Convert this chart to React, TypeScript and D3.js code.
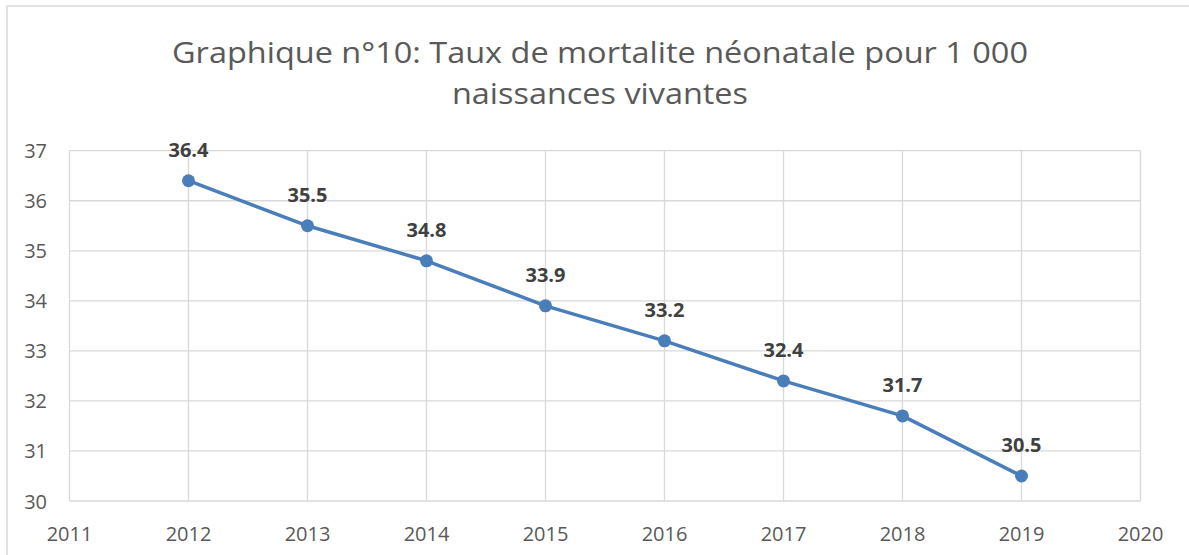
import React from "react";
import * as d3 from "d3";

const years = [2012, 2013, 2014, 2015, 2016, 2017, 2018, 2019];
const values = [36.4, 35.5, 34.8, 33.9, 33.2, 32.4, 31.7, 30.5];
const xTicks = [2011, 2012, 2013, 2014, 2015, 2016, 2017, 2018, 2019, 2020];
const yTicks = [30, 31, 32, 33, 34, 35, 36, 37];
const titleLines = ["Graphique n°10: Taux de mortalite néonatale pour 1 000", "naissances vivantes"];

const W = 1189;
const H = 555;
const left = 69.5;
const right = 1140.5;
const top = 150.7;
const bottom = 501;

export default function App() {
  const x = d3.scaleLinear().domain([2011, 2020]).range([left, right]);
  const y = d3.scaleLinear().domain([30, 37]).range([bottom, top]);
  const line = d3
    .line<number>()
    .x((_, i) => x(years[i]))
    .y((d) => y(d));
  const font = "'Open Sans', 'DejaVu Sans', sans-serif";
  return (
    <svg
      width={W}
      height={H}
      style={{ position: "absolute", left: 0, top: 0, background: "#fff" }}
    >
      <rect x={7} y={6} width={W + 10} height={H + 10} fill="#fff" stroke="#d9d9d9" strokeWidth={1.5} />
      <g fontFamily={font} fill="#595959" textAnchor="middle">
        <text x={600} y={63} fontSize={29.5} textLength={856} lengthAdjust="spacingAndGlyphs">{titleLines[0]}</text>
        <text x={600} y={104} fontSize={29.5} textLength={296} lengthAdjust="spacingAndGlyphs">{titleLines[1]}</text>
      </g>
      <g stroke="#d9d9d9" strokeWidth={1.3}>
        {yTicks.map((t) => (
          <line key={"h" + t} x1={left} x2={right} y1={y(t)} y2={y(t)} />
        ))}
        {xTicks.map((t) => (
          <line key={"v" + t} x1={x(t)} x2={x(t)} y1={top} y2={bottom} />
        ))}
      </g>
      <g fontFamily={font} fill="#595959" fontSize={20}>
        {yTicks.map((t) => (
          <text key={"yl" + t} x={47} y={y(t) + 7.5} textAnchor="end">
            {t}
          </text>
        ))}
        {xTicks.map((t) => (
          <text key={"xl" + t} x={x(t)} y={541} textAnchor="middle">
            {t}
          </text>
        ))}
      </g>
      <path d={line(values) || ""} fill="none" stroke="#4a7ebb" strokeWidth={3.5} strokeLinejoin="round" />
      {values.map((v, i) => (
        <circle key={"c" + i} cx={x(years[i])} cy={y(v)} r={6.5} fill="#4a7ebb" />
      ))}
      <g fontFamily={font} fill="#404040" fontSize={20} fontWeight="bold" textAnchor="middle">
        {values.map((v, i) => (
          <text key={"dl" + i} x={x(years[i])} y={y(v) - 24}>
            {v.toFixed(1)}
          </text>
        ))}
      </g>
    </svg>
  );
}
